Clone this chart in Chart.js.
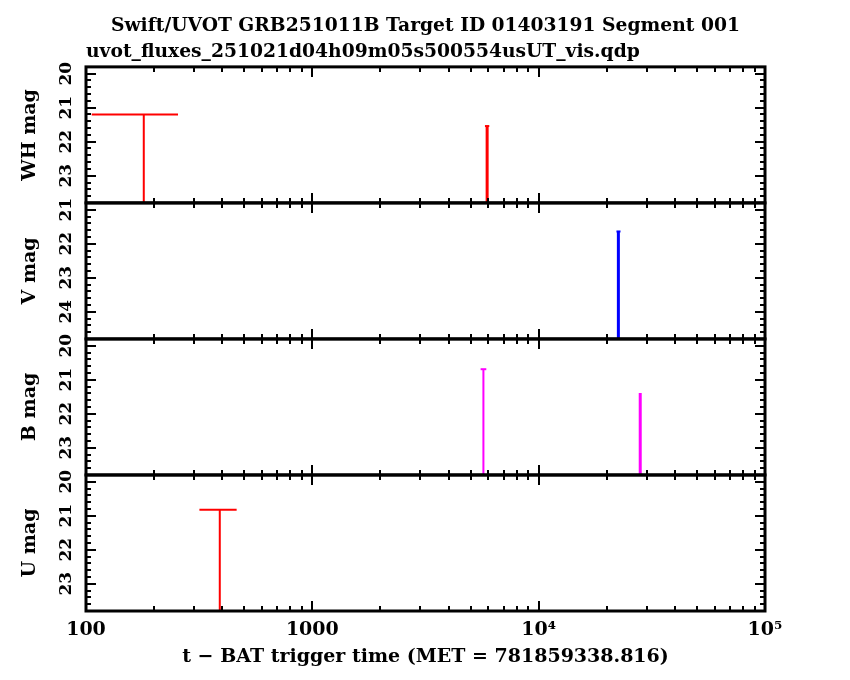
<!DOCTYPE html>
<html>
<head>
<meta charset="utf-8">
<script src="https://cdn.jsdelivr.net/npm/chart.js@4.4.1/dist/chart.umd.min.js"></script>
<style>
  html, body { margin: 0; padding: 0; background: #fff; }
  #wrap { width: 850px; height: 680px; }
</style>
</head>
<body>
<div id="wrap"><canvas id="uvot-canvas" width="850" height="680"></canvas></div>
<script>
// x axis: seconds since BAT trigger, log scale
const xRange = [100, 100000];
const xTickValues = [100, 1000, 10000, 100000];
const xTickLabels = ["100", "1000", "10\u2074", "10\u2075"];

// panels from top to bottom
const panelNames = ["WH", "V", "B", "U"];
const panelRanges = [[19.8, 23.8], [20.8, 24.8], [19.8, 23.8], [19.8, 23.8]];
const panelTicks = [[20, 21, 22, 23], [21, 22, 23, 24], [20, 21, 22, 23], [20, 21, 22, 23]];

// upper limits per filter: time, bin start, bin end, magnitude
const whTime = [180, 5920];
const whStart = [106, 5790];
const whEnd = [255, 6050];
const whMag = [21.2, 21.54];

const vTime = [22500];
const vStart = [22070];
const vEnd = [22990];
const vMag = [21.64];

const bTime = [5700, 28100];
const bStart = [5540, 28100];
const bEnd = [5870, 28100];
const bMag = [20.69, 21.39];

const uTime = [390];
const uStart = [317];
const uEnd = [463];
const uMag = [20.82];

// styles
const panelColors = ["#ff0000", "#0000ff", "#ff00ff", "#ff0000"];
const stemWidths = [[2, 3], [3], [2, 3], [2]];
const FONT = "'DejaVu Serif', serif";

const panelIds = ["yWH", "yV", "yB", "yU"];
const panelData = [
  [whTime, whStart, whEnd, whMag],
  [vTime, vStart, vEnd, vMag],
  [bTime, bStart, bEnd, bMag],
  [uTime, uStart, uEnd, uMag],
];

function buildDatasets() {
  const datasets = [];
  panelData.forEach(([time, start, end, mag], p) => {
    const bottom = panelRanges[p][1];
    time.forEach((t, i) => {
      const common = {
        yAxisID: panelIds[p],
        borderColor: panelColors[p],
        borderWidth: stemWidths[p][i],
        pointRadius: 0,
        fill: false,
      };
      datasets.push({ ...common, data: [{ x: t, y: mag[i] }, { x: t, y: bottom }] });
      if (end[i] > start[i]) {
        datasets.push({ ...common, borderWidth: 2, data: [{ x: start[i], y: mag[i] }, { x: end[i], y: mag[i] }] });
      }
    });
  });
  return datasets;
}

function minorXTicks() {
  const out = [];
  for (let d = xRange[0]; d < xRange[1]; d *= 10) {
    for (let m = 2; m <= 9; m++) out.push(d * m);
  }
  return out;
}

const frameTicksPlugin = {
  id: "frameTicks",
  afterDatasetsDraw(chart) {
    const ctx = chart.ctx;
    const xs = chart.scales.x;
    const { left, right } = chart.chartArea;
    const minors = minorXTicks();
    ctx.save();
    ctx.strokeStyle = "#000";
    ctx.lineCap = "butt";
    panelIds.forEach((id) => {
      const ys = chart.scales[id];
      const top = ys.top;
      const bottom = ys.bottom;
      ctx.lineWidth = 2;
      ctx.beginPath();
      const xTick = (v, len) => {
        const px = Math.round(xs.getPixelForValue(v));
        ctx.moveTo(px, top);
        ctx.lineTo(px, top + len);
        ctx.moveTo(px, bottom);
        ctx.lineTo(px, bottom - len);
      };
      xTickValues.forEach((v) => xTick(v, 10));
      minors.forEach((v) => xTick(v, 5));
      const yTick = (v, len) => {
        const py = Math.round(ys.getPixelForValue(v));
        ctx.moveTo(left, py);
        ctx.lineTo(left + len, py);
        ctx.moveTo(right, py);
        ctx.lineTo(right - len, py);
      };
      for (let k = Math.ceil(ys.min * 5 - 1e-6); k <= Math.floor(ys.max * 5 + 1e-6); k++) {
        yTick(k / 5, k % 5 === 0 ? 10 : 5);
      }
      ctx.stroke();
      ctx.lineWidth = 3;
      ctx.strokeRect(left, top, right - left, bottom - top);
    });
    ctx.restore();
  },
};

function yScale(p) {
  return {
    type: "linear",
    position: "left",
    stack: "mags",
    stackWeight: 1,
    reverse: true,
    min: panelRanges[p][0],
    max: panelRanges[p][1],
    grid: { display: false, drawTicks: false },
    border: { display: false },
    afterFit: (scale) => { scale.width = 86; },
    afterBuildTicks: (scale) => { scale.ticks = panelTicks[p].map((v) => ({ value: v })); },
    ticks: {
      autoSkip: false,
      minRotation: 90,
      maxRotation: 90,
      crossAlign: "center",
      padding: 8,
      color: "#000",
      font: { family: FONT, size: 17, weight: "bold" },
    },
    title: {
      display: true,
      text: panelNames[p] + " mag",
      color: "#000",
      padding: { top: 19, bottom: 0 },
      font: { family: FONT, size: 19, weight: "bold" },
    },
  };
}

// later-defined stacked axes are placed on top, so list bottom panel first
const scales = {
  x: {
    type: "logarithmic",
    min: xRange[0],
    max: xRange[1],
    grid: { display: false, drawTicks: false },
    border: { display: false },
    afterFit: (scale) => { scale.height = 61; },
    afterBuildTicks: (scale) => { scale.ticks = xTickValues.map((v) => ({ value: v })); },
    ticks: {
      autoSkip: false,
      maxRotation: 0,
      padding: 8,
      color: "#000",
      font: { family: FONT, size: 19, weight: "bold" },
      callback: (value) => xTickLabels[xTickValues.indexOf(value)],
    },
    title: {
      display: true,
      text: "t \u2212 BAT trigger time (MET = 781859338.816)",
      color: "#000",
      padding: { top: 0, bottom: 4 },
      font: { family: FONT, size: 19, weight: "bold" },
    },
  },
};
[3, 2, 1, 0].forEach((p) => { scales[panelIds[p]] = yScale(p); });

new Chart(document.querySelector("#uvot-canvas"), {
  type: "line",
  data: { datasets: buildDatasets() },
  options: {
    responsive: false,
    animation: false,
    devicePixelRatio: 1,
    layout: { padding: { left: 0, right: 85, top: 0, bottom: 8 } },
    plugins: {
      legend: { display: false },
      tooltip: { enabled: false },
      title: {
        display: true,
        text: "Swift/UVOT GRB251011B Target ID 01403191 Segment 001",
        fullSize: false,
        color: "#000",
        padding: { top: 15, bottom: 3 },
        font: { family: FONT, size: 18.7, weight: "bold", lineHeight: 1.2 },
      },
      subtitle: {
        display: true,
        text: "uvot_fluxes_251021d04h09m05s500554usUT_vis.qdp",
        align: "start",
        fullSize: false,
        color: "#000",
        padding: { top: 0, bottom: 4 },
        font: { family: FONT, size: 18.7, weight: "bold", lineHeight: 1.2 },
      },
    },
    scales,
  },
  plugins: [frameTicksPlugin],
});
</script>
</body>
</html>
